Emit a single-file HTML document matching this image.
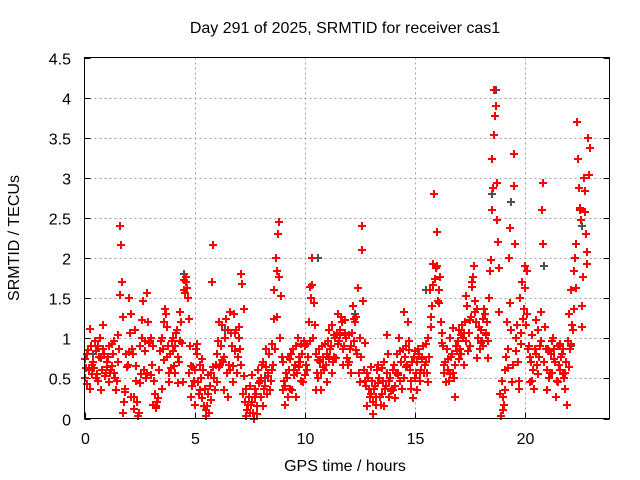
<!DOCTYPE html>
<html><head><meta charset="utf-8"><style>
body{margin:0;background:#fff;}
svg{display:block;font-family:"Liberation Sans",sans-serif;}
</style></head><body>
<svg id="chart" width="640" height="480" viewBox="0 0 640 480">
<rect x="0" y="0" width="640" height="480" fill="#fff"/>
<text x="345" y="33" font-size="16" text-anchor="middle" fill="#000">Day 291 of 2025, SRMTID for receiver cas1</text>
<text x="345" y="471" font-size="16" text-anchor="middle" fill="#000">GPS time / hours</text>
<text transform="translate(19,238) rotate(-90)" font-size="16" text-anchor="middle" fill="#000">SRMTID / TECUs</text>
<g id="grid"></g>
<g id="ticks"></g>
<g id="marks" shape-rendering="crispEdges"></g>
<rect x="84.5" y="57.5" width="525" height="361" fill="none" stroke="#000" stroke-width="1"/>
</svg>
<script>
const xTicks=[0,5,10,15,20];
const yTicks=[0,0.5,1,1.5,2,2.5,3,3.5,4,4.5];
const yTickLabels=["0","0.5","1","1.5","2","2.5","3","3.5","4","4.5"];
const seriesA=[0.5,0.8,0.6,0.9,0.7,0.5,0.9,1.0,0.6,0.8,0.7,0.9,0.6,0.8,0.5,0.7,2.4,1.7,0.2,0.8,1.5,1.3,0.8,1.1,0.2,0.9,1.0,0.6,0.5,1.2,1.0,0.9,0.3,0.2,0.6,1.0,1.2,1.3,0.9,0.8,1.0,0.9,1.1,0.7,1.2,1.6,1.7,1.5,0.9,0.4,0.6,0.8,0.3,0.5,0.6,0.1,0.3,0.4,1.7,0.5,0.8,1.2,0.9,0.7,1.0,1.1,0.6,0.9,1.3,1.1,1.0,1.8,0.3,0.2,0.1,0.4,0.2,0.0,0.3,0.6,0.5,0.7,0.4,0.3,0.8,0.6,1.6,2.0,2.3,1.0,0.7,0.4,0.5,0.6,0.8,0.6,0.9,1.0,0.7,0.8,0.9,0.6,1.2,1.5,1.0,0.8,0.5,0.7,0.9,0.6,0.8,1.1,0.9,0.7,1.0,1.3,1.1,1.2,0.9,1.0,0.7,0.9,1.4,1.2,0.8,1.0,2.1,0.6,0.4,0.5,0.3,0.2,0.4,0.6,0.5,0.3,0.7,0.4,0.8,0.5,0.6,0.4,0.8,1.0,0.7,0.5,0.9,1.2,0.6,0.7,0.5,0.7,0.8,0.6,0.9,0.7,1.0,1.6,1.4,2.8,1.9,1.6,1.2,0.9,0.7,0.6,1.0,0.8,0.5,0.9,1.1,0.8,1.0,1.2,1.4,0.9,1.7,1.9,1.2,1.0,1.1,0.9,1.3,1.2,1.5,2.6,4.1,3.9,2.2,0.3,0.1,0.6,1.2,2.0,1.1,2.9,1.0,0.7,1.5,1.7,1.9,1.3,0.9,0.7,0.6,0.8,1.1,0.9,2.6,0.7,0.6,0.5,0.8,1.0,0.7,0.9,0.6,0.8,0.5,0.7,1.3,1.6,1.1,2.0,3.7,2.6,1.4,3.0,2.3,3.5];
const seriesB=[0.74,0.43,1.12,0.56,0.63,0.84,0.47,0.76,1.17,0.53,0.64,0.46,0.93,0.57,0.36,1.04,1.54,0.07,0.33,0.64,0.83,0.27,0.12,0.66,0.03,0.44,1.23,0.84,1.56,0.94,0.54,0.17,0.13,0.26,0.84,0.37,0.73,1.14,0.46,0.63,0.84,0.57,0.44,1.33,0.94,1.73,1.76,1.24,0.27,0.64,0.17,0.93,0.36,0.74,0.16,0.03,0.54,0.23,0.64,0.36,0.46,0.64,0.73,0.36,1.24,0.27,1.33,0.46,0.84,0.57,1.14,0.67,0.53,0.03,0.17,0.07,0.54,0.27,0.06,0.44,0.27,0.16,0.64,0.53,0.36,0.93,1.24,1.84,2.45,1.53,0.36,0.17,0.27,0.74,0.36,0.54,0.27,0.64,0.93,0.46,0.54,0.93,1.64,2.0,1.44,0.36,0.73,0.36,0.64,0.93,0.46,0.74,0.57,1.04,0.76,0.93,1.04,0.67,1.23,0.76,1.04,0.57,1.24,0.86,1.63,0.46,2.4,0.94,0.16,0.37,0.64,0.06,0.17,0.44,0.27,0.63,0.16,1.04,0.27,0.34,0.36,0.26,0.54,0.84,0.37,1.33,0.64,0.86,0.37,0.26,0.84,0.36,0.47,0.74,0.57,0.93,0.46,1.14,1.93,1.74,2.33,1.44,0.94,0.57,0.46,0.74,0.56,1.13,0.27,0.84,0.74,1.04,0.67,1.53,0.84,1.23,1.64,1.33,0.76,1.14,0.94,1.24,1.04,0.76,1.84,3.23,3.53,2.94,1.33,0.03,0.27,0.36,0.63,1.44,0.46,3.3,0.84,0.37,0.93,1.24,1.63,1.84,0.46,1.04,0.37,1.23,0.56,1.33,2.93,1.14,0.36,0.84,0.57,0.74,0.27,0.46,0.93,0.56,0.37,0.17,0.64,0.93,1.84,1.63,3.23,2.63,1.14,2.84,1.93,3.03];
const seriesC=[0.63,0.86,0.37,0.67,0.97,0.56,0.77,0.36,0.87,0.57,0.77,0.57,0.66,0.96,0.47,0.87,2.16,1.26,0.37,0.67,1.07,0.87,0.27,0.47,0.07,0.56,1.46,0.96,0.57,0.97,0.67,0.47,0.16,0.26,0.97,0.87,1.36,0.77,0.57,0.96,0.66,1.07,0.77,0.96,0.46,1.57,1.63,0.57,0.66,0.47,0.87,0.46,0.67,0.26,0.37,0.16,0.07,0.57,2.16,0.67,0.97,0.67,1.16,0.77,0.57,0.67,1.06,0.66,1.07,0.77,0.87,1.68,1.37,0.37,0.27,0.17,0.07,0.37,0.16,0.47,0.67,0.37,0.87,0.57,0.47,0.67,0.87,1.27,1.77,0.77,0.47,0.57,0.77,0.37,0.87,0.67,0.57,0.77,0.47,0.97,0.67,0.77,0.97,1.66,1.17,0.57,0.87,0.57,0.77,0.67,0.97,0.87,1.17,0.77,1.07,0.97,1.27,0.87,1.07,0.67,0.87,1.07,0.97,1.27,0.57,0.77,1.47,0.47,0.57,0.27,0.47,0.37,0.27,0.67,0.17,0.47,0.37,0.57,0.47,0.37,0.67,0.57,0.57,0.47,0.87,0.77,0.67,0.97,0.47,0.77,0.57,0.87,0.57,0.77,0.67,0.57,0.77,1.27,1.67,1.87,1.47,1.77,1.07,0.67,0.87,0.47,0.77,0.57,0.67,0.97,0.87,1.17,1.07,0.97,1.07,1.27,1.77,1.47,1.37,0.87,0.97,1.37,1.07,0.97,1.97,2.87,3.77,2.47,1.87,0.47,0.17,0.77,0.87,2.37,0.67,2.17,1.17,0.47,1.07,1.37,1.17,0.87,0.77,0.47,0.87,0.67,0.77,0.97,2.17,0.87,0.87,0.57,0.97,0.87,0.47,0.67,0.77,0.87,0.57,0.97,0.87,1.17,1.37,2.17,2.87,2.47,1.77,2.57,2.07,3.37];
const grayTimes=[0.4,2.6,4.5,6.4,8.2,10.6,12.3,15.5,17.3,18.5,18.7,19.4,20.9,22.1,22.6];
const grayVals=[0.8,1.0,1.8,1.1,0.5,2.0,1.3,1.6,1.2,2.8,4.1,2.7,1.9,0.9,2.4];

const X0=84.5,X1=609.5,XMAX=23.86,Y0=418.5,Y1=57.5,YMAX=4.5;
const xs=t=>X0+(t/XMAX)*(X1-X0);
const ys=v=>Y0-(v/YMAX)*(Y0-Y1);
const NS="http://www.w3.org/2000/svg";
const grid=document.getElementById('grid'),ticks=document.getElementById('ticks'),marks=document.getElementById('marks');
function mk(tag,attrs,parent){const e=document.createElementNS(NS,tag);for(const k in attrs)e.setAttribute(k,attrs[k]);parent.appendChild(e);return e;}
xTicks.forEach(t=>{
  const x=Math.round(xs(t))+0.5;
  if(t>0){const g=mk('line',{x1:x,y1:Y1,x2:x,y2:Y0,stroke:'#a0a0a0','stroke-dasharray':'2,3'},grid);
  
  }
  const tk=mk('line',{x1:x,y1:Y0,x2:x,y2:Y0-6,stroke:'#000'},ticks);
  
  
  const lb=mk('text',{x:x,y:444,'font-size':16,'text-anchor':'middle',fill:'#000'},ticks);lb.textContent=String(t);
  
  
});
yTicks.forEach((v,i)=>{
  const y=Math.round(ys(v))+0.5;
  if(v>0&&v<4.5){const g=mk('line',{x1:X0,y1:y,x2:X1,y2:y,stroke:'#a0a0a0','stroke-dasharray':'2,3'},grid);
  
  }
  const tk=mk('line',{x1:X0,y1:y,x2:X0+6,y2:y,stroke:'#000'},ticks);
  
  
  const tk2=mk('line',{x1:X1,y1:y,x2:X1-6,y2:y,stroke:'#000'},ticks);
  
  
  const lb=mk('text',{x:71,y:y+6,'font-size':16,'text-anchor':'end',fill:'#000'},ticks);lb.textContent=yTickLabels[i];
  
  
});
function cross(t,v,color){
  const x=Math.round(xs(t)),y=Math.round(ys(v));
  const p=mk('path',{d:`M${x-4},${y}H${x+4}M${x},${y-4}V${y+4}`,stroke:color,'stroke-width':1.6,fill:'none'},marks);
  
  
}
grayTimes.forEach((t,i)=>cross(t,grayVals[i],'#505050'));
seriesA.forEach((v,i)=>cross(i*0.1,v,'#ff0000'));
seriesB.forEach((v,i)=>cross(i*0.1+0.03,v,'#ff0000'));
seriesC.forEach((v,i)=>cross(i*0.1+0.06,v,'#ff0000'));
</script>
</body></html>
